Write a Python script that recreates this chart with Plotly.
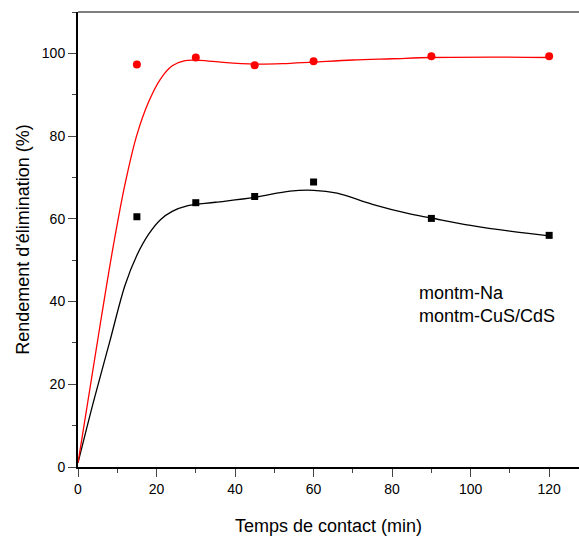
import plotly.graph_objects as go

# Measured points
t_points = [15, 30, 45, 60, 90, 120]
na_points = [60.5, 63.9, 65.4, 68.9, 60.1, 56.0]
cus_points = [97.3, 99.0, 97.1, 98.1, 99.3, 99.3]

# Fitted curves
t_fit_na = [0, 4, 8, 12, 15, 18, 21, 24, 28, 35, 45, 54, 60, 66, 75, 84, 90, 100, 110, 120]
na_fit = [1, 16, 30, 44, 51.2, 56.3, 59.8, 61.8, 63.2, 64.0, 65.2, 66.7, 66.9, 66.2, 63.5, 61.3, 60.2, 58.4, 57.0, 55.9]
t_fit_cus = [0, 6, 9, 12, 15, 18, 21, 24, 27, 31, 37, 45, 52, 60, 70, 80, 90, 105, 120]
cus_fit = [1, 36.5, 53.5, 68.5, 80.3, 88.3, 93.8, 97.0, 98.2, 98.3, 97.8, 97.4, 97.5, 97.9, 98.4, 98.7, 99.0, 99.1, 99.0]

legend_labels = ["montm-Na", "montm-CuS/CdS"]

FONT = "Liberation Sans, Arial, sans-serif"

fig = go.Figure()
fig.add_trace(go.Scatter(x=t_fit_na, y=na_fit, mode="lines", line=dict(color="black", width=1.3, shape="spline", smoothing=1.0), showlegend=False, hoverinfo="skip"))
fig.add_trace(go.Scatter(x=t_fit_cus, y=cus_fit, mode="lines", line=dict(color="red", width=1.3, shape="spline", smoothing=1.0), showlegend=False, hoverinfo="skip"))
fig.add_trace(go.Scatter(x=t_points, y=na_points, mode="markers", marker=dict(symbol="square", size=7, color="black"), name=legend_labels[0], showlegend=False))
fig.add_trace(go.Scatter(x=t_points, y=cus_points, mode="markers", marker=dict(symbol="circle", size=8, color="red"), name=legend_labels[1], showlegend=False))

for i, lab in enumerate(legend_labels):
    fig.add_annotation(text=lab, xref="paper", yref="paper", x=0.676, y=0.382 - i * 0.0505,
                       xanchor="left", yanchor="middle", showarrow=False,
                       font=dict(family=FONT, size=18, color="black"))

fig.add_shape(type="line", xref="paper", yref="paper", x0=0, x1=1, y0=1, y1=1,
              line=dict(color="#555555", width=1.5))

fig.update_layout(
    width=579, height=537,
    margin=dict(l=78, r=0, t=12, b=70),
    paper_bgcolor="white", plot_bgcolor="white",
    font=dict(family=FONT, size=14, color="black"),
    xaxis=dict(range=[0, 127.6], tickvals=[0, 20, 40, 60, 80, 100, 120], ticks="outside", ticklen=8, tickwidth=1.3,
               showline=True, linecolor="black", linewidth=2, showgrid=False, zeroline=False,
               minor=dict(dtick=10, tick0=0, ticks="outside", ticklen=4, tickwidth=1.2, showgrid=False),
               title=dict(text="Temps de contact (min)", font=dict(size=18), standoff=24)),
    yaxis=dict(range=[0, 110], tickvals=[0, 20, 40, 60, 80, 100], ticks="outside", ticklen=8, tickwidth=1.3,
               showline=True, linecolor="black", linewidth=2, showgrid=False, zeroline=False,
               minor=dict(dtick=10, tick0=0, ticks="outside", ticklen=4, tickwidth=1.2, showgrid=False),
               title=dict(text="Rendement d'élimination (%)", font=dict(size=18), standoff=8)),
)

fig.write_html("out.html")
